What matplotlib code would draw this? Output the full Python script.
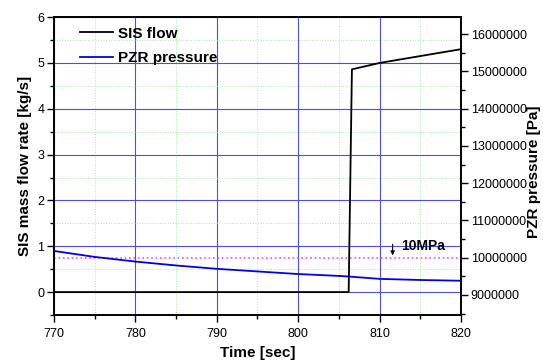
import matplotlib
matplotlib.use("Agg")
import matplotlib.pyplot as plt
from matplotlib.lines import Line2D
from matplotlib.ticker import MultipleLocator

plt.rcParams['font.family'] = ['Liberation Sans', 'DejaVu Sans']

# SIS mass flow rate [kg/s]
sis_time = [770, 806.2, 806.6, 810, 815, 820]
sis_flow = [0, 0, 4.86, 5.0, 5.15, 5.3]

# PZR pressure [Pa]
pzr_time = [770, 775, 780, 785, 790, 795, 800, 805, 806.4, 810, 815, 820]
pzr_pres = [10180000, 10020000, 9895000, 9790000, 9700000, 9630000,
            9560000, 9510000, 9490000, 9430000, 9400000, 9380000]

ref_pres = 10000000

fig = plt.figure(figsize=(5.43, 3.64), dpi=100)
ax = fig.add_axes([0.0994, 0.1346, 0.7496, 0.8184])
ax2 = ax.twinx()

ax.set_xlim(770, 820)
ax.set_ylim(-0.5, 6)
ax2.set_ylim(8460000, 16460000)

ax.xaxis.set_major_locator(MultipleLocator(10))
ax.xaxis.set_minor_locator(MultipleLocator(5))
ax.yaxis.set_major_locator(MultipleLocator(1))
ax.yaxis.set_minor_locator(MultipleLocator(0.5))
ax2.yaxis.set_major_locator(MultipleLocator(1000000))
ax2.yaxis.set_minor_locator(MultipleLocator(500000))
ax2.ticklabel_format(axis='y', style='plain', useOffset=False)

ax.grid(which='major', color='#4a4aff', linewidth=0.8, linestyle='-')
ax.grid(which='minor', color='#a0f0a0', linewidth=0.7, linestyle=':')
ax.set_axisbelow(True)

ax.plot(sis_time, sis_flow, color='black', linewidth=1.3, zorder=3)
ax2.plot(pzr_time, pzr_pres, color='#0000ee', linewidth=1.3, zorder=3)
ax2.axhline(ref_pres, color='#ff44ff', linestyle=':', linewidth=1.2)

ax2.annotate('', xy=(811.6, 10060000), xytext=(811.6, 10360000),
             arrowprops=dict(arrowstyle='-|>', color='black', lw=0.8,
                             mutation_scale=6, shrinkA=0, shrinkB=0))
ax2.text(812.6, 10300000, '10MPa', fontsize=10, fontweight='bold', va='center')

for a in (ax, ax2):
    a.tick_params(which='both', direction='out', labelsize=9, width=1, pad=2)
    a.tick_params(which='major', length=5)
    a.tick_params(which='minor', length=3)
    for s in a.spines.values():
        s.set_linewidth(1.2)
ax.tick_params(axis='x', pad=4)
ax.tick_params(top=False, which='both')

ax.set_xlabel('Time [sec]', fontsize=11, fontweight='bold', labelpad=5)
ax.set_ylabel('SIS mass flow rate [kg/s]', fontsize=11, fontweight='bold')
ax2.set_ylabel('PZR pressure [Pa]', fontsize=11, fontweight='bold')
ax2.yaxis.set_label_coords(1.163, 0.48)

handles = [Line2D([], [], color='black', linewidth=1.3),
           Line2D([], [], color='#0000ee', linewidth=1.3)]
ax.legend(handles, ['SIS flow', 'PZR pressure'], loc='upper left',
          frameon=False, prop={'weight': 'bold', 'size': 11},
          handlelength=2.15, handletextpad=0.35, borderaxespad=0,
          borderpad=0, labelspacing=0.7,
          bbox_to_anchor=(0.064, 0.968))

fig.savefig('out.png', dpi=100)
